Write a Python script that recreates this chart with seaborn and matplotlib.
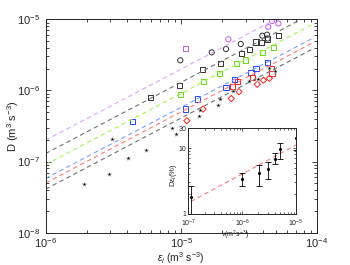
import seaborn as sns
import matplotlib.pyplot as plt
import numpy as np

# --- main panel data ---
mag_sq_x = [1.08e-5]
mag_sq_y = [3.86e-6]
mag_ci_x = [2.23e-5, 4.39e-5, 5.21e-5, 4.68e-5]
mag_ci_y = [5.23e-6, 7.85e-6, 8.73e-6, 9.46e-6]

blk_ci_x = [9.85e-6, 1.68e-5, 2.14e-5, 2.75e-5, 3.97e-5, 4.30e-5, 4.34e-5]
blk_ci_y = [2.65e-6, 3.43e-6, 3.82e-6, 4.50e-6, 5.88e-6, 6.07e-6, 5.37e-6]
blk_sq_x = [5.96e-6, 9.75e-6, 1.44e-5, 1.96e-5, 2.80e-5, 3.17e-5, 3.56e-5, 3.88e-5, 4.32e-5, 5.21e-5]
blk_sq_y = [8.0e-7, 1.16e-6, 1.95e-6, 2.41e-6, 3.32e-6, 3.79e-6, 4.80e-6, 4.69e-6, 5.28e-6, 5.88e-6]

grn_sq_x = [9.9e-6, 1.47e-5, 1.91e-5, 2.57e-5, 2.99e-5, 3.97e-5, 4.78e-5]
grn_sq_y = [8.8e-7, 1.33e-6, 1.74e-6, 2.41e-6, 2.68e-6, 3.39e-6, 3.99e-6]

blu_sq_x = [4.36e-6, 1.07e-5, 1.31e-5, 2.14e-5, 2.47e-5, 3.27e-5, 3.56e-5, 4.35e-5]
blu_sq_y = [3.63e-7, 5.47e-7, 7.57e-7, 1.09e-6, 1.42e-6, 1.77e-6, 2.05e-6, 2.45e-6]

red_sq_x = [2.38e-5, 2.59e-5, 3.37e-5, 4.65e-5, 4.68e-5]
red_sq_y = [1.14e-6, 1.33e-6, 1.53e-6, 2.05e-6, 1.74e-6]
red_di_x = [1.10e-5, 1.45e-5, 2.34e-5, 2.67e-5, 3.64e-5, 4.04e-5, 4.47e-5]
red_di_y = [3.75e-7, 5.47e-7, 7.69e-7, 9.59e-7, 1.22e-6, 1.39e-6, 1.48e-6]

star_x = [1.92e-6, 2.95e-6, 4.06e-6, 5.54e-6, 3.07e-6, 8.51e-6, 9.15e-6, 1.35e-5,
          1.37e-5, 1.88e-5, 1.93e-5, 2.43e-5, 3.18e-5, 3.69e-5, 4.47e-5, 4.92e-5]
star_y = [4.83e-8, 6.71e-8, 1.13e-7, 1.47e-7, 2.05e-7, 2.96e-7, 2.44e-7, 4.41e-7,
          5.25e-7, 6.29e-7, 7.64e-7, 9.81e-7, 1.36e-6, 1.46e-6, 2.05e-6, 1.87e-6]

# slope-1 fits D = C * eps
fit_coef = [0.20, 0.13, 0.091, 0.058, 0.050, 0.041]
fit_colors = ['#d9a3ff', '#707070', '#a6f25a', '#7c9cff', '#ff7a7a', '#707070']
eps_range = [1e-6, 9.2e-5]

# --- inset data ---
nu = [1.11e-7, 1.015e-6, 2.03e-6, 3.08e-6, 4.16e-6, 5.15e-6, 1.0e-5]
d_eps = [1.82, 3.35, 4.10, 4.80, 6.82, 9.52, 14.0]
err_lo = [0.82, 0.73, 1.46, 1.45, 1.20, 2.77, 4.65]
err_hi = [0.82, 0.82, 1.43, 1.34, 1.45, 2.58, 8.0]
inset_fit_a = 11.1     # value at nu = 1e-5
inset_fit_b = 0.44

sns.set_style('ticks')
plt.rcParams['font.family'] = ['Liberation Sans', 'DejaVu Sans']
plt.rcParams['xtick.direction'] = 'in'
plt.rcParams['ytick.direction'] = 'in'
plt.rcParams['mathtext.fontset'] = 'custom'
plt.rcParams['mathtext.rm'] = 'Liberation Sans'
plt.rcParams['mathtext.it'] = 'Liberation Sans:italic'

fig = plt.figure(figsize=(3.5, 2.65), dpi=100)
ax = fig.add_axes([0.1306, 0.1219, 0.7743, 0.8053])
ax.set_xscale('log')
ax.set_yscale('log')

eps_line = np.logspace(np.log10(eps_range[0]), np.log10(eps_range[1]), 50)
for c, col in zip(fit_coef, fit_colors):
    sns.lineplot(x=eps_line, y=c * eps_line, ax=ax, color=col, lw=0.8,
                 linestyle=(0, (4, 3)), legend=False)

mk = dict(ax=ax, legend=False, s=14, linewidth=0.7, facecolor='none')
sns.scatterplot(x=mag_sq_x, y=mag_sq_y, marker='s', edgecolor='#c05cf0', **mk)
sns.scatterplot(x=mag_ci_x, y=mag_ci_y, marker='o', edgecolor='#c05cf0', **mk)
sns.scatterplot(x=blk_ci_x, y=blk_ci_y, marker='o', edgecolor='#333333', **mk)
sns.scatterplot(x=blk_sq_x, y=blk_sq_y, marker='s', edgecolor='#333333', **mk)
sns.scatterplot(x=grn_sq_x, y=grn_sq_y, marker='s', edgecolor='#66dd11', **mk)
sns.scatterplot(x=blu_sq_x, y=blu_sq_y, marker='s', edgecolor='#2244ff', **mk)
sns.scatterplot(x=red_sq_x, y=red_sq_y, marker='s', edgecolor='#ff2020', **mk)
sns.scatterplot(x=red_di_x, y=red_di_y, marker='D', edgecolor='#ff2020', **dict(mk, s=10))
sns.scatterplot(x=star_x, y=star_y, marker='*', color='black', ax=ax, legend=False,
                s=16, linewidth=0.3)

ax.set_xlim(1e-6, 1e-4)
ax.set_ylim(1e-8, 1e-5)
ax.tick_params(which='both', top=True, right=True, labelsize=8, width=0.6)
ax.tick_params(which='major', length=3.5)
ax.tick_params(axis='x', which='major', pad=2.5)
ax.tick_params(axis='y', which='major', pad=4)
ax.tick_params(which='minor', length=2)
for s in ax.spines.values():
    s.set_linewidth(0.7)
ax.set_xlabel(r'$\epsilon_l$ (m$^3$ s$^{-3}$)', fontsize=7.5)
ax.set_ylabel(r'D (m$^3$ s$^{-3}$)', fontsize=8)
ax.xaxis.set_label_coords(0.5, -0.082)
ax.yaxis.set_label_coords(-0.09, 0.5)

# --- inset ---
ins = fig.add_axes([0.538, 0.1936, 0.3077, 0.3223])
ins.set_xscale('log')
ins.set_yscale('log')
nu_line = np.logspace(np.log10(nu[0]), -5, 30)
sns.lineplot(x=nu_line, y=inset_fit_a * (nu_line / 1e-5) ** inset_fit_b, ax=ins,
             color='#ff7a7a', lw=0.8, linestyle=(0, (4, 3)), legend=False)
ins.errorbar(nu, d_eps, yerr=[err_lo, err_hi], fmt='.', color='black', ms=2.5,
             elinewidth=0.6, capsize=2.5, capthick=0.6)
ins.set_xlim(1e-7, 1e-5)
ins.set_ylim(1, 20)
ins.set_yticks([1, 10, 20])
ins.set_yticklabels(['1', '10', '30'])
ins.yaxis.set_minor_formatter(plt.NullFormatter())
ins.tick_params(which='both', top=True, right=True, labelsize=5, width=0.5, pad=1.5)
ins.tick_params(axis='x', which='major', pad=2.8)
ins.tick_params(which='major', length=2.5)
ins.tick_params(which='minor', length=1.5)
for s in ins.spines.values():
    s.set_linewidth(0.7)
ins.set_xlabel(r'$\nu$(m$^2$s$^{-3}$)', fontsize=5)
ins.set_ylabel(r'D$\epsilon_l$(%)', fontsize=5.5)
ins.xaxis.set_label_coords(0.43, -0.175)
ins.yaxis.set_label_coords(-0.09, 0.45)

fig.savefig('out.png', dpi=100)
